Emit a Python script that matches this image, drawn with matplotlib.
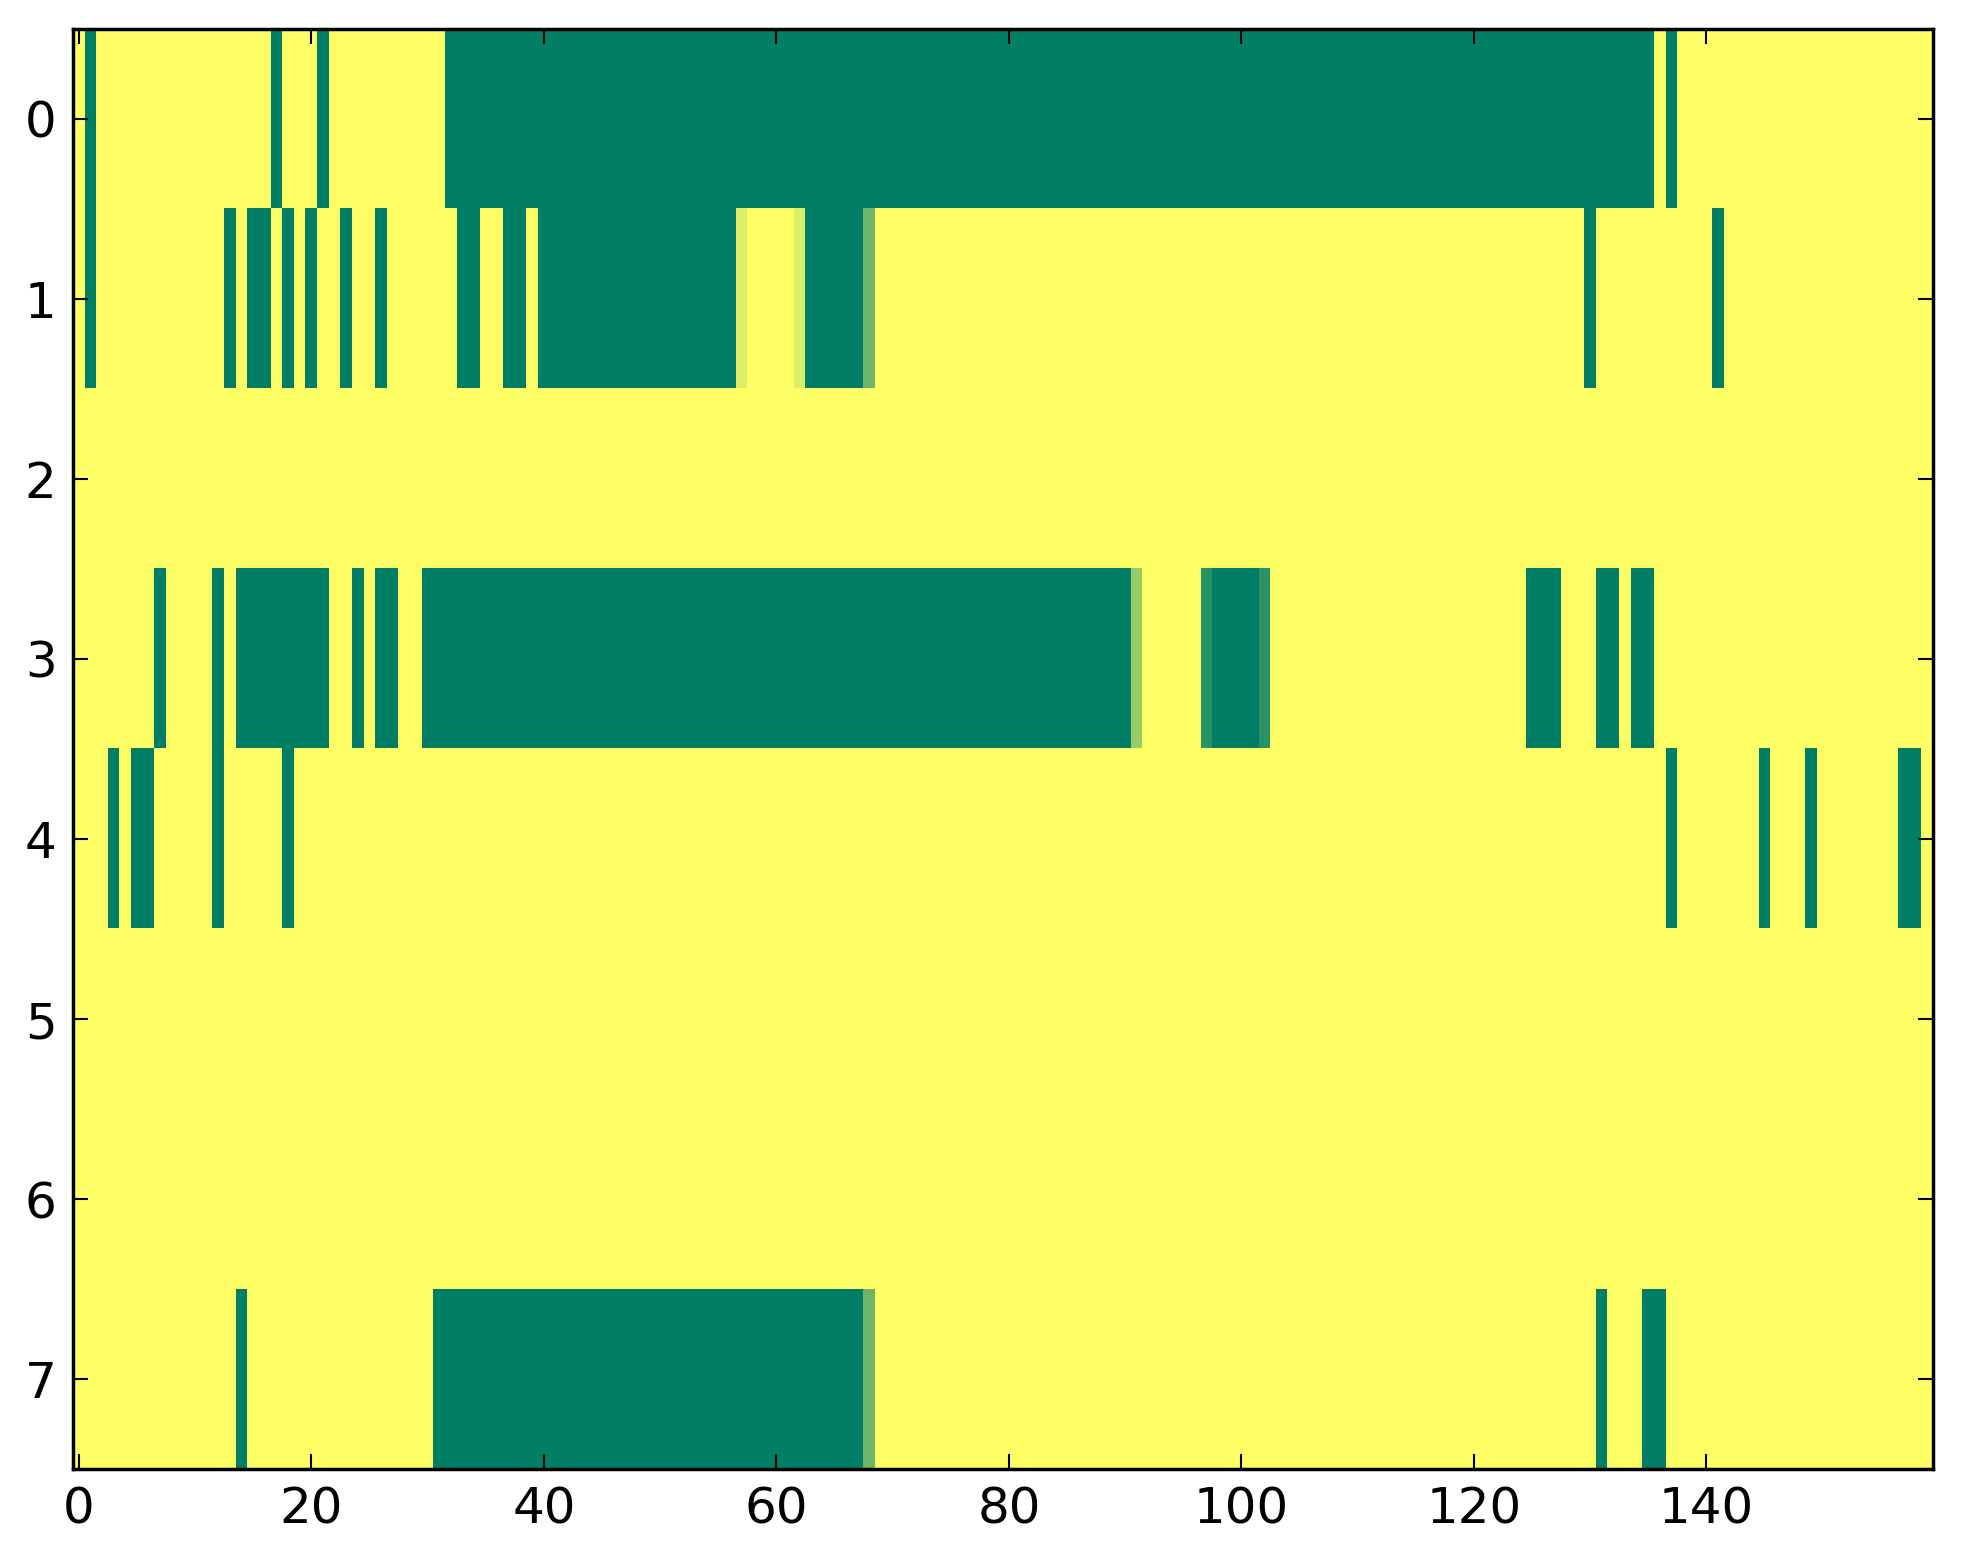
import numpy as np
import matplotlib
matplotlib.use("Agg")
import matplotlib.pyplot as plt

n_rows = 8
n_cols = 160

# Non-default cells per row: (first_col, last_col, value); all other cells are 1.0
row0 = [(1, 1, 0.0), (17, 17, 0.0), (21, 21, 0.0), (32, 135, 0.0), (137, 137, 0.0)]
row1 = [(1, 1, 0.0), (13, 13, 0.0), (15, 16, 0.0), (18, 18, 0.0), (20, 20, 0.0),
        (23, 23, 0.0), (26, 26, 0.0), (33, 34, 0.0), (37, 38, 0.0), (40, 56, 0.0),
        (57, 57, 0.86), (62, 62, 0.86), (63, 67, 0.0), (68, 68, 0.43),
        (130, 130, 0.0), (141, 141, 0.0)]
row2 = []
row3 = [(7, 7, 0.0), (12, 12, 0.0), (14, 21, 0.0), (24, 24, 0.0), (26, 27, 0.0),
        (30, 90, 0.0), (91, 91, 0.59), (97, 97, 0.15), (98, 101, 0.0), (102, 102, 0.15),
        (125, 127, 0.0), (131, 132, 0.0), (134, 135, 0.0)]
row4 = [(3, 3, 0.0), (5, 6, 0.0), (12, 12, 0.0), (18, 18, 0.0), (137, 137, 0.0),
        (145, 145, 0.0), (149, 149, 0.0), (157, 158, 0.0)]
row5 = []
row6 = []
row7 = [(14, 14, 0.0), (31, 67, 0.0), (68, 68, 0.43), (131, 131, 0.0), (135, 136, 0.0)]

rows = [row0, row1, row2, row3, row4, row5, row6, row7]
x_ticks = [0, 20, 40, 60, 80, 100, 120, 140]
y_ticks = [0, 1, 2, 3, 4, 5, 6, 7]

data = np.ones((n_rows, n_cols))
for r, runs in enumerate(rows):
    for a, b, v in runs:
        data[r, a:b + 1] = v

fig = plt.figure(figsize=(19.63, 15.64), dpi=100, facecolor="white")
ax = fig.add_axes([0.0373, 0.0607, 0.9474, 0.9208])
ax.imshow(data, cmap="summer", vmin=0, vmax=1, aspect="auto", interpolation="nearest")

ax.set_xticks(x_ticks)
ax.set_yticks(y_ticks)
ax.set_xlim(-0.5, n_cols - 0.5)
ax.set_ylim(n_rows - 0.5, -0.5)
ax.tick_params(direction="in", top=True, right=True, length=11, width=1.5,
               labelsize=36, pad=12)
for s in ax.spines.values():
    s.set_linewidth(2.5)

fig.savefig("out.png", dpi=100, facecolor="white")
